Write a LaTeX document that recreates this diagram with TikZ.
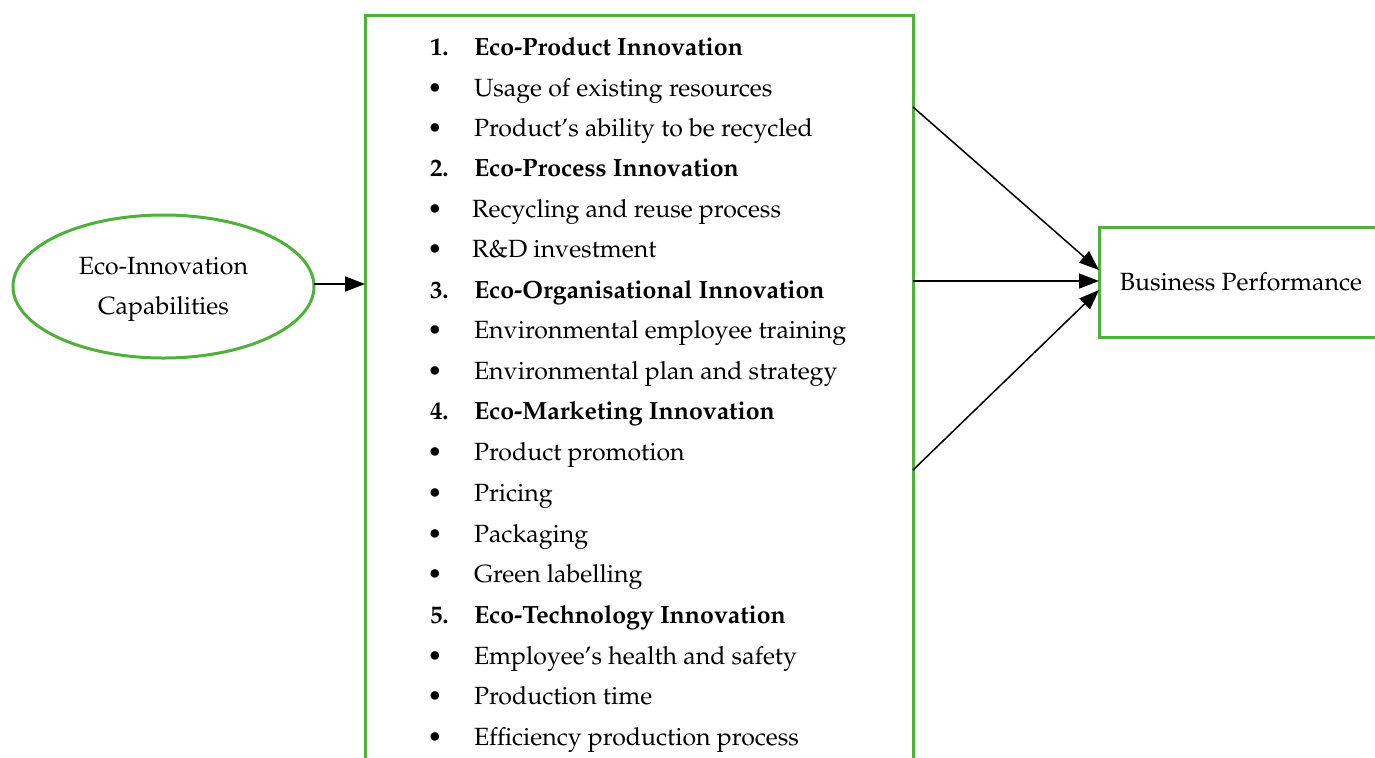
\documentclass[tikz,border=0pt]{standalone}
\usepackage[T1]{fontenc}
\usepackage{mathpazo}
\usetikzlibrary{arrows.meta,shapes.geometric}
\definecolor{boxgreen}{RGB}{80,176,60}
\begin{document}
\begin{tikzpicture}[x=0.5pt,y=-0.5pt,
  every node/.style={font=\fontsize{12.45}{20}\selectfont, inner sep=0pt, outer sep=0pt},
  gline/.style={draw=boxgreen, line width=1.5pt},
  conn/.style={draw=black, line width=0.75pt, -{Triangle[length=10pt,width=7.5pt]}},
  itemtext/.style={anchor=base west},
  headtext/.style={anchor=base west, font=\fontsize{12.45}{20}\selectfont\bfseries},
  bul/.style={anchor=base}]
\useasboundingbox (0,0) rectangle (1375,757);
\clip (0,0) rectangle (1375,757);

\node[gline, ellipse, minimum width=150.5pt, minimum height=71.5pt] (eic) at (163.5,286.5) {};
\node[align=center] (eict) at (163.5,289.5) {Eco-Innovation\\Capabilities};
\node[gline, rectangle, minimum width=274pt, minimum height=400pt, anchor=north west] (list) at (365,15) {};
\node[gline, rectangle, minimum width=142pt, minimum height=55pt, anchor=west] (bp) at (1099,282) {Business Performance};

% list content
\node[headtext] (n1) at (430,55) {1.};
\node[headtext] (h1) at (474,55) {Eco-Product Innovation};
\node[bul] (b1) at (435,96) {\textbullet};
\node[itemtext] (i1) at (474,96) {Usage of existing resources};
\node[bul] (b2) at (435,136) {\textbullet};
\node[itemtext] (i2) at (474,136) {Product's ability to be recycled};
\node[headtext] (n2) at (430,176) {2.};
\node[headtext] (h2) at (474,176) {Eco-Process Innovation};
\node[bul] (b3) at (435,217) {\textbullet};
\node[itemtext] (i3) at (472,217) {Recycling and reuse process};
\node[bul] (b4) at (435,257) {\textbullet};
\node[itemtext] (i4) at (472,257) {R\&D investment};
\node[headtext] (n3) at (430,298) {3.};
\node[headtext] (h3) at (474,298) {Eco-Organisational Innovation};
\node[bul] (b5) at (435,338) {\textbullet};
\node[itemtext] (i5) at (474,338) {Environmental employee training};
\node[bul] (b6) at (435,379) {\textbullet};
\node[itemtext] (i6) at (474,379) {Environmental plan and strategy};
\node[headtext] (n4) at (430,419) {4.};
\node[headtext] (h4) at (474,419) {Eco-Marketing Innovation};
\node[bul] (b7) at (435,460) {\textbullet};
\node[itemtext] (i7) at (474,460) {Product promotion};
\node[bul] (b8) at (435,501) {\textbullet};
\node[itemtext] (i8) at (474,501) {Pricing};
\node[bul] (b9) at (435,542) {\textbullet};
\node[itemtext] (i9) at (474,542) {Packaging};
\node[bul] (b10) at (435,582) {\textbullet};
\node[itemtext] (i10) at (474,582) {Green labelling};
\node[headtext] (n5) at (430,623) {5.};
\node[headtext] (h5) at (474,623) {Eco-Technology Innovation};
\node[bul] (b11) at (435,664) {\textbullet};
\node[itemtext] (i11) at (474,664) {Employee's health and safety};
\node[bul] (b12) at (435,704) {\textbullet};
\node[itemtext] (i12) at (474,704) {Production time};
\node[bul] (b13) at (435,745) {\textbullet};
\node[itemtext] (i13) at (474,745) {Efficiency production process};

% connectors
\coordinate (e1) at (314,284);
\draw[conn] (e1) -- (e1 -| list.west);
\coordinate (o1) at (913,107);
\coordinate (o2) at (913,281);
\coordinate (o3) at (913,470);
\coordinate (t1) at (1099,270);
\coordinate (t2) at (1099,281);
\coordinate (t3) at (1099,290);
\draw[conn] (o1) -- (t1);
\draw[conn] (o2) -- (t2);
\draw[conn] (o3) -- (t3);
\end{tikzpicture}
\end{document}
